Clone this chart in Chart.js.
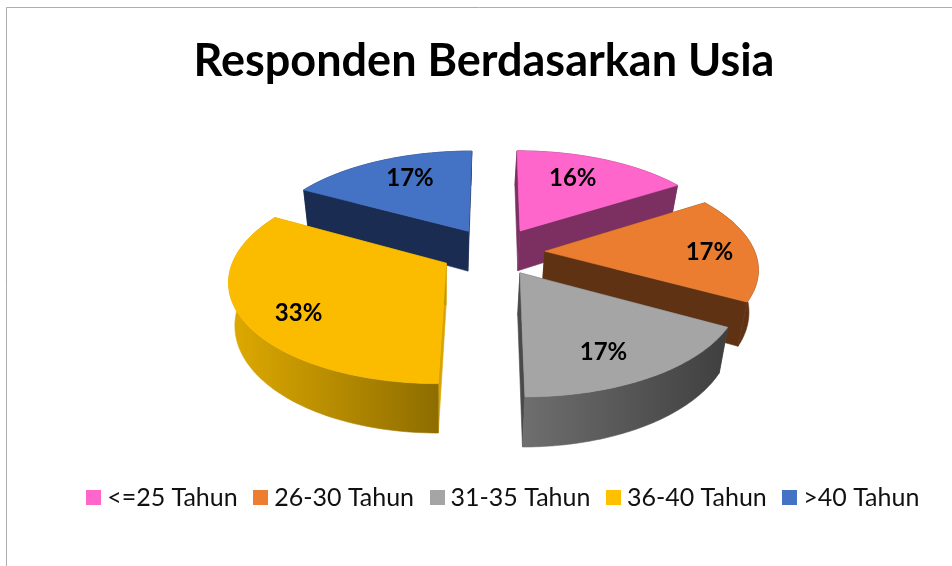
<!DOCTYPE html>
<html>
<head>
<meta charset="utf-8">
<style>html,body{margin:0;padding:0;background:#fff}#wrap{width:952px;height:566px;position:relative}</style>
<script src="https://cdn.jsdelivr.net/npm/chart.js@4"></script>
</head>
<body>
<div id="wrap"><canvas id="c" width="952" height="566"></canvas></div>
<script>
const categories = ['<=25 Tahun', '26-30 Tahun', '31-35 Tahun', '36-40 Tahun', '>40 Tahun'];
const percentValues = [16, 17, 17, 33, 17];
const topColors = ['#FF66CC', '#ED7D31', '#A5A5A5', '#FFC000', '#4472C4'];
const topFaceColors = ['#FF66CC', '#EB7D31', '#A5A5A5', '#FBBC00', '#4472C4'];
const rimStops = [['#7C3062', '#7C3062'], ['#5F3214', '#5F3214'], ['#6E6E6E', '#3F3F3F'], ['#DFAA00', '#8E6D00'], ['#1A2C52', '#1A2C52']];
const edgeColors = [['#7C3062', '#7C3062'], ['#5F3214', '#5F3214'], ['#555555', '#4A4A4A'], ['#D8A400', '#C79700'], ['#1A2C52', '#1A2C52']];
const titleText = 'Responden Berdasarkan Usia';

const cam = {cx: 492.5, cy: 251, R: 210, b: 98, k: 0.152, depth: 41, shrink: 0.97, drift: -1.5, explode: 0.24, labelR: 0.76};
const labelNudge = [[-9, 3], [8, 4], [-12, 4], [2, 8], [12, 2]];
const sliceNudge = [[4, 0], [2, 1], [1, 1], [-2, 0], [1, 0]];

function project(u, v, t) {
  const den = 1 - cam.k * v;
  const x = cam.R * u / den * (1 - (1 - cam.shrink) * t) + cam.drift * t;
  const y = cam.b * v / den + t * cam.depth / den;
  return [cam.cx + x, cam.cy + y];
}
function poly(ctx, pts, fill) {
  ctx.beginPath();
  pts.forEach((p, i) => i ? ctx.lineTo(p[0], p[1]) : ctx.moveTo(p[0], p[1]));
  ctx.closePath();
  ctx.fillStyle = fill;
  ctx.fill();
  ctx.strokeStyle = fill;
  ctx.lineWidth = 0.6;
  ctx.stroke();
}

const pie3d = {
  id: 'pie3d',
  beforeDraw(chart) {
    const ctx = chart.ctx;
    ctx.save();
    ctx.strokeStyle = '#ADADAD';
    ctx.lineWidth = 1;
    ctx.beginPath();
    ctx.moveTo(6.5, 566);
    ctx.lineTo(6.5, 7.5);
    ctx.lineTo(952, 7.5);
    ctx.stroke();
    ctx.restore();
  },
  afterLayout(chart) {
    chart.legend.left += 22;
    chart.legend.right += 22;
  },
  beforeDatasetsDraw(chart) {
    const ctx = chart.ctx;
    const arcs = chart.getDatasetMeta(0).data;
    const order = [4, 0, 1, 3, 2];
    ctx.save();
    order.forEach(i => {
      const a = arcs[i];
      const mid = (a.startAngle + a.endAngle) / 2;
      const ou = Math.cos(mid) * cam.explode, ov = Math.sin(mid) * cam.explode;
      const rimPts = [];
      const N = 80;
      for (let s = 0; s <= N; s++) {
        const th = a.startAngle + (a.endAngle - a.startAngle) * s / N;
        rimPts.push([ou + Math.cos(th), ov + Math.sin(th)]);
      }
      const top = rimPts.map(p => project(p[0], p[1], 0));
      const bot = rimPts.map(p => project(p[0], p[1], 1));
      const tipT = project(ou, ov, 0), tipB = project(ou, ov, 1);
      ctx.save();
      ctx.translate(sliceNudge[i][0], sliceNudge[i][1]);
      poly(ctx, [tipT, top[0], bot[0], tipB], edgeColors[i][0]);
      poly(ctx, [tipT, top[N], bot[N], tipB], edgeColors[i][1]);
      const xs = top.map(p => p[0]);
      const g = ctx.createLinearGradient(Math.min(...xs), 0, Math.max(...xs), 0);
      g.addColorStop(0, rimStops[i][0]);
      g.addColorStop(1, rimStops[i][1]);
      poly(ctx, top.concat(bot.slice().reverse()), g);
      poly(ctx, [tipT].concat(top), topFaceColors[i]);
      ctx.restore();
    });
    ctx.fillStyle = '#000';
    ctx.font = 'bold 24px Lato';
    ctx.textAlign = 'center';
    ctx.textBaseline = 'middle';
    arcs.forEach((a, i) => {
      const mid = (a.startAngle + a.endAngle) / 2;
      const r = cam.explode + cam.labelR;
      const p = project(Math.cos(mid) * r, Math.sin(mid) * r, 0);
      const total = percentValues.reduce((s, x) => s + x, 0);
      ctx.fillText(Math.round(percentValues[i] / total * 100) + '%', p[0] + labelNudge[i][0], p[1] + labelNudge[i][1]);
    });
    ctx.restore();
    return false;
  }
};

const swatches = topColors.map(col => {
  const s = document.createElement('canvas');
  s.width = 15; s.height = 15;
  const c = s.getContext('2d');
  c.fillStyle = col;
  c.fillRect(0, 0, 15, 15);
  return s;
});

new Chart(document.getElementById('c'), {
  type: 'pie',
  data: {labels: categories, datasets: [{data: percentValues, backgroundColor: topColors, borderWidth: 0}]},
  plugins: [pie3d],
  options: {
    responsive: false,
    animation: false,
    layout: {padding: {left: 16, right: 0, top: 34, bottom: 46}},
    plugins: {
      tooltip: {enabled: false},
      title: {display: true, text: titleText, color: '#000', font: {family: 'Lato', size: 45, weight: 'bold'}, padding: {top: 0, bottom: 10}},
      legend: {
        position: 'bottom',
        labels: {
          font: {family: 'Lato', size: 25},
          color: '#111',
          boxWidth: 2,
          usePointStyle: true,
          padding: 22,
          generateLabels(chart) {
            return Chart.overrides.pie.plugins.legend.labels.generateLabels(chart).map((l, i) => ({...l, pointStyle: swatches[i]}));
          }
        }
      }
    }
  }
});
</script>
</body>
</html>
